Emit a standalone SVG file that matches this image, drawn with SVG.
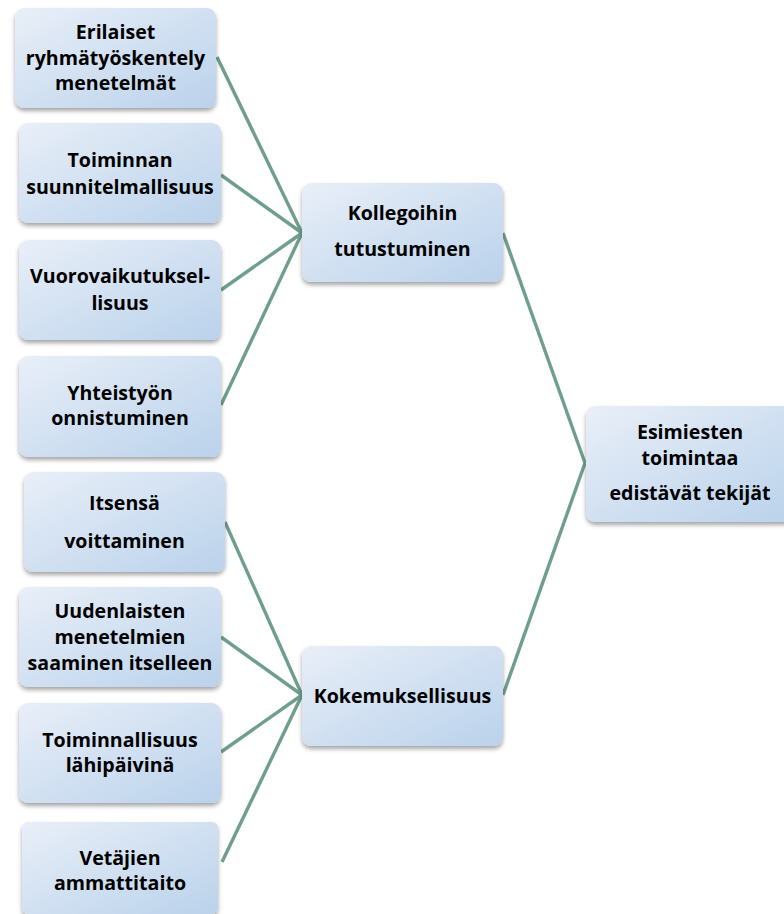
<svg xmlns="http://www.w3.org/2000/svg" width="784" height="914" viewBox="0 0 784 914">
<defs>
<linearGradient id="g" x1="0" y1="0" x2="1" y2="1">
<stop offset="0" stop-color="#e9eff8"/>
<stop offset="1" stop-color="#bad2eb"/>
</linearGradient>
<filter id="sh" x="-10%" y="-10%" width="120%" height="130%">
<feDropShadow dx="0" dy="3" stdDeviation="2" flood-color="#000" flood-opacity="0.35"/>
</filter>
</defs>
<style>
.b{fill:url(#g);filter:url(#sh)}
.t{font-family:"Open Sans","Liberation Sans",sans-serif;font-weight:bold;font-size:19.6px;fill:#000;text-anchor:middle}
.c{stroke:#6f9e8f;stroke-width:3.4;fill:none}
</style>
<rect width="784" height="914" fill="#fff"/>
<g id="connectors">
<line class="c" x1="217" y1="57" x2="302" y2="233"/>
<line class="c" x1="221" y1="175" x2="302" y2="233"/>
<line class="c" x1="221" y1="290" x2="302" y2="233"/>
<line class="c" x1="221" y1="405" x2="302" y2="233"/>
<line class="c" x1="225" y1="522" x2="302" y2="695"/>
<line class="c" x1="221" y1="637" x2="302" y2="695"/>
<line class="c" x1="221" y1="752" x2="302" y2="695"/>
<line class="c" x1="222" y1="862" x2="302" y2="695"/>
<line class="c" x1="503" y1="233" x2="585" y2="463"/>
<line class="c" x1="503" y1="695" x2="585" y2="463"/>
</g>
<g id="n1"><rect class="b" x="15" y="8" width="201" height="100" rx="9"/>
<text class="t" x="115.5" y="39">Erilaiset</text><text class="t" x="115.5" y="65">ryhmätyöskentely</text><text class="t" x="115.5" y="90">menetelmät</text></g>
<g id="n2"><rect class="b" x="19" y="123" width="202" height="100" rx="9"/>
<text class="t" x="120" y="167">Toiminnan</text><text class="t" x="120" y="194">suunnitelmallisuus</text></g>
<g id="n3"><rect class="b" x="19" y="240" width="202" height="100" rx="9"/>
<text class="t" x="120" y="283">Vuorovaikutuksel-</text><text class="t" x="120" y="310">lisuus</text></g>
<g id="n4"><rect class="b" x="19" y="356" width="202" height="101" rx="9"/>
<text class="t" x="120" y="400">Yhteistyön</text><text class="t" x="120" y="425">onnistuminen</text></g>
<g id="n5"><rect class="b" x="24" y="472" width="201" height="100" rx="9"/>
<text class="t" x="124.5" y="510">Itsensä</text><text class="t" x="124.5" y="548">voittaminen</text></g>
<g id="n6"><rect class="b" x="19" y="587" width="202" height="100" rx="9"/>
<text class="t" x="120" y="618">Uudenlaisten</text><text class="t" x="120" y="644">menetelmien</text><text class="t" x="120" y="670">saaminen itselleen</text></g>
<g id="n7"><rect class="b" x="19" y="703" width="202" height="100" rx="9"/>
<text class="t" x="120" y="747">Toiminnallisuus</text><text class="t" x="120" y="772">lähipäivinä</text></g>
<g id="n8"><rect class="b" x="22" y="822" width="196" height="92" rx="6"/>
<text class="t" x="120" y="865">Vetäjien</text><text class="t" x="120" y="890">ammattitaito</text></g>
<g id="n9"><rect class="b" x="302" y="183" width="201" height="99" rx="9"/>
<text class="t" x="402.5" y="220">Kollegoihin</text><text class="t" x="402.5" y="256">tutustuminen</text></g>
<g id="n10"><rect class="b" x="302" y="646" width="201" height="100" rx="9"/>
<text class="t" x="402.5" y="703">Kokemuksellisuus</text></g>
<g id="n11"><rect class="b" x="586" y="406" width="210" height="116" rx="9"/>
<text class="t" x="690" y="439">Esimiesten</text><text class="t" x="690" y="465">toimintaa</text><text class="t" x="690" y="500">edistävät tekijät</text></g>
</svg>
